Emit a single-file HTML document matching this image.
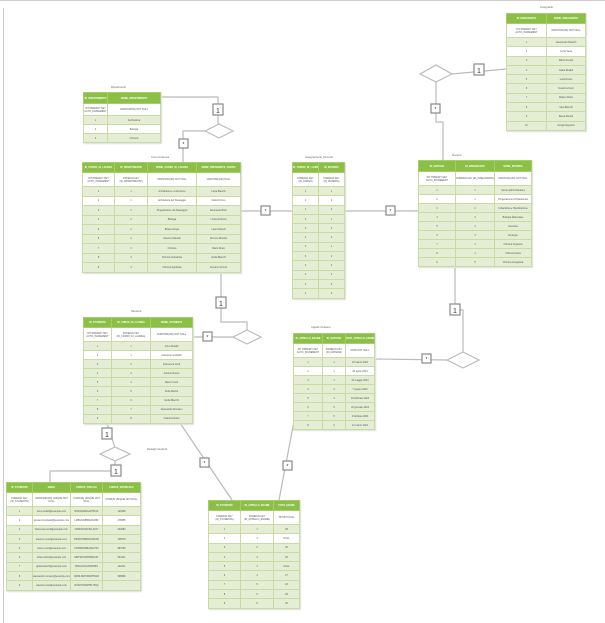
<!DOCTYPE html>
<html><head><meta charset="utf-8"><style>
body{margin:0;width:605px;height:623px;background:#fff;position:relative;overflow:hidden;font-family:"Liberation Sans",sans-serif}
.t{position:absolute;border-collapse:collapse;table-layout:fixed;border:1.5px solid #a7cc6c;font-size:2.4px;color:#555;box-shadow:1px 1px 1px #ddd}
.t td{border:1px solid #c6dca2;text-align:center;padding:0;overflow:hidden;white-space:nowrap;background:#e5eed5}
.t tr.h td{background:#8cbf45;color:#fff;font-weight:bold;border-color:#a7cc6c}
.t tr.y td{background:#fff;white-space:normal;line-height:3px}
.t tr.w td{background:#fff}
.lb{position:absolute;font-size:2.8px;color:#666}
svg{position:absolute;left:0;top:0}
</style></head><body>
<svg width="605" height="623">
<line x1="0" y1="0.5" x2="605" y2="0.5" stroke="#ccc"/>
<line x1="3.5" y1="8" x2="3.5" y2="623" stroke="#ccc"/>
<g fill="none" stroke="#bbb" stroke-width="1.2">
<polyline points="161,97 218,97 218,130"/>
<polygon points="205,131 219,124 233,131 219,138" fill="#fff"/>
<polyline points="205,131 183,131 183,162"/>
<line x1="241" y1="211" x2="292" y2="211"/>
<line x1="345" y1="211" x2="418" y2="211"/>
<polyline points="506,69 452,74"/>
<polygon points="420,74 436,65 452,74 436,82" fill="#fff"/>
<polyline points="436,82 436,122 443,122 443,160"/>
<polyline points="221,271 221,322 247,322 247,330"/>
<polygon points="233,337 247,330 261,337 247,344" fill="#fff"/>
<line x1="193" y1="337" x2="233" y2="337"/>
<polyline points="455,268 455,310 463,310 463,352"/>
<polygon points="447,360 463,352 479,360 463,368" fill="#fff"/>
<line x1="375" y1="359" x2="447" y2="360"/>
<line x1="107" y1="423" x2="115" y2="448"/>
<polygon points="100,454 115,447 130,454 115,461" fill="#fff"/>
<polyline points="115,461 115,471 50,471 50,482"/>
<line x1="180" y1="423" x2="232" y2="500"/>
<line x1="296" y1="411" x2="279" y2="500"/>
</g>
<g fill="#fff" stroke="#888" stroke-width="1.2" font-size="7" font-family="Liberation Sans" text-anchor="middle">
<rect x="213" y="104" width="10" height="11"/><text x="218" y="113" fill="#333" stroke="none">1</text>
<rect x="179" y="139" width="9" height="9"/><text x="183.5" y="146" fill="#333" stroke="none" font-size="5">*</text>
<rect x="261" y="206" width="9" height="9"/><text x="265.5" y="213" fill="#333" stroke="none" font-size="5">*</text>
<rect x="386" y="206" width="9" height="9"/><text x="390.5" y="213" fill="#333" stroke="none" font-size="5">*</text>
<rect x="474" y="64" width="10" height="11"/><text x="479" y="73" fill="#333" stroke="none">1</text>
<rect x="431" y="104" width="9" height="9"/><text x="435.5" y="111" fill="#333" stroke="none" font-size="5">*</text>
<rect x="216" y="297" width="10" height="11"/><text x="221" y="306" fill="#333" stroke="none">1</text>
<rect x="203" y="332" width="9" height="9"/><text x="207.5" y="339" fill="#333" stroke="none" font-size="5">*</text>
<rect x="450" y="304" width="10" height="11"/><text x="455" y="313" fill="#333" stroke="none">1</text>
<rect x="422" y="354" width="9" height="9"/><text x="426.5" y="361" fill="#333" stroke="none" font-size="5">*</text>
<rect x="102" y="428" width="10" height="11"/><text x="107" y="437" fill="#333" stroke="none">1</text>
<rect x="111" y="465" width="10" height="11"/><text x="116" y="474" fill="#333" stroke="none">1</text>
<rect x="200" y="458" width="9" height="9"/><text x="204.5" y="465" fill="#333" stroke="none" font-size="5">*</text>
<rect x="283" y="461" width="9" height="9"/><text x="287.5" y="468" fill="#333" stroke="none" font-size="5">*</text>
</g>
</svg>

<div class="lb" style="left:111px;top:85px">Dipartimenti</div>
<div class="lb" style="left:151px;top:155px">Corsi di laurea</div>
<div class="lb" style="left:305px;top:155px">Insegnamenti_Docenti</div>
<div class="lb" style="left:452px;top:153px">Docenti</div>
<div class="lb" style="left:540px;top:5px">Insegnanti</div>
<div class="lb" style="left:131px;top:309px">Studenti</div>
<div class="lb" style="left:311px;top:325px">Appelli d'esame</div>
<div class="lb" style="left:147px;top:447px">Dettagli studenti</div>

<table class="t" style="left:83px;top:92px;width:78px">
<colgroup><col style="width:24px"><col></colgroup>
<tr class="h" style="height:11px"><td>ID_DIPARTIMENTO</td><td>NOME_DIPARTIMENTO</td></tr>
<tr class="y" style="height:12px"><td>INT PRIMARY KEY AUTO_INCREMENT</td><td>VARCHAR(50) NOT NULL</td></tr>
<tr style="height:9px"><td>1</td><td>Architettura</td></tr>
<tr class="w" style="height:9px"><td>2</td><td>Biologia</td></tr>
<tr style="height:9px"><td>3</td><td>Chimica</td></tr>
</table>

<table class="t" style="left:82px;top:162px;width:159px">
<colgroup><col style="width:32px"><col style="width:33px"><col style="width:49px"><col></colgroup>
<tr class="h" style="height:10px"><td>ID_CORSO_DI_LAUREA</td><td>ID_DIPARTIMENTO</td><td>NOME_CORSO_DI_LAUREA</td><td>NOME_PRESIDENTE_CORSO</td></tr>
<tr class="y" style="height:14px"><td>INT PRIMARY KEY AUTO_INCREMENT</td><td>FOREIGN KEY (ID_DIPARTIMENTO)</td><td>VARCHAR(100) NOT NULL</td><td>VARCHAR(100) NULL</td></tr>
<tr style="height:9.5px"><td>1</td><td>1</td><td>Architettura e costruzione</td><td>Lucia Bianchi</td></tr>
<tr class="w" style="height:9.5px"><td>2</td><td>1</td><td>Architettura del Paesaggio</td><td>Fabio Di Feo</td></tr>
<tr style="height:9.5px"><td>3</td><td>1</td><td>Progettazione del Paesaggio</td><td>Emanuele Bisio</td></tr>
<tr style="height:9.5px"><td>4</td><td>2</td><td>Biologia</td><td>Umberto Rossi</td></tr>
<tr style="height:9.5px"><td>5</td><td>2</td><td>Biotecnologie</td><td>Laura Morelli</td></tr>
<tr style="height:9.5px"><td>6</td><td>2</td><td>Scienze Naturali</td><td>Simone Albertini</td></tr>
<tr style="height:9.5px"><td>7</td><td>3</td><td>Chimica</td><td>Mario Rossi</td></tr>
<tr style="height:9.5px"><td>8</td><td>3</td><td>Chimica Industriale</td><td>Giulia Bianchi</td></tr>
<tr style="height:9.5px"><td>9</td><td>3</td><td>Chimica Applicata</td><td>Giovanni Ferrari</td></tr>
</table>

<table class="t" style="left:292px;top:162px;width:53px">
<colgroup><col style="width:26px"><col></colgroup>
<tr class="h" style="height:10px"><td>ID_CORSO_DI_LAUREA</td><td>ID_MATERIA</td></tr>
<tr class="y" style="height:14px"><td>FOREIGN KEY (ID_CORSO)</td><td>FOREIGN KEY (ID_MATERIA)</td></tr>
<tr style="height:9.3px"><td>1</td><td>1</td></tr>
<tr class="w" style="height:9.3px"><td>1</td><td>2</td></tr>
<tr style="height:9.3px"><td>1</td><td>3</td></tr>
<tr style="height:9.3px"><td>2</td><td>1</td></tr>
<tr style="height:9.3px"><td>2</td><td>2</td></tr>
<tr style="height:9.3px"><td>2</td><td>3</td></tr>
<tr style="height:9.3px"><td>3</td><td>1</td></tr>
<tr style="height:9.3px"><td>3</td><td>2</td></tr>
<tr style="height:9.3px"><td>3</td><td>3</td></tr>
<tr style="height:9.3px"><td>4</td><td>4</td></tr>
<tr style="height:9.3px"><td>4</td><td>5</td></tr>
<tr style="height:9.3px"><td>4</td><td>6</td></tr>
</table>

<table class="t" style="left:418px;top:160px;width:114px">
<colgroup><col style="width:37px"><col style="width:39px"><col></colgroup>
<tr class="h" style="height:11px"><td>ID_MATERIA</td><td>ID_INSEGNANTE</td><td>NOME_MATERIA</td></tr>
<tr class="y" style="height:14px"><td>INT PRIMARY KEY AUTO_INCREMENT</td><td>FOREIGN KEY (ID_INSEGNANTE)</td><td>VARCHAR(100) NOT NULL</td></tr>
<tr style="height:9px"><td>1</td><td>1</td><td>Storia dell'Architettura</td></tr>
<tr class="w" style="height:9px"><td>2</td><td>1</td><td>Progettazione Architettonica</td></tr>
<tr style="height:9px"><td>3</td><td>2</td><td>Urbanistica e Pianificazione</td></tr>
<tr style="height:9px"><td>4</td><td>3</td><td>Biologia Molecolare</td></tr>
<tr style="height:9px"><td>5</td><td>3</td><td>Genetica</td></tr>
<tr style="height:9px"><td>6</td><td>3</td><td>Ecologia</td></tr>
<tr style="height:9px"><td>7</td><td>4</td><td>Chimica Organica</td></tr>
<tr style="height:9px"><td>8</td><td>4</td><td>Chimica Fisica</td></tr>
<tr style="height:9px"><td>9</td><td>5</td><td>Chimica Inorganica</td></tr>
</table>

<table class="t" style="left:506px;top:13px;width:80px">
<colgroup><col style="width:40px"><col></colgroup>
<tr class="h" style="height:10px"><td>ID_INSEGNANTE</td><td>NOME_INSEGNANTE</td></tr>
<tr class="y" style="height:14px"><td>INT PRIMARY KEY AUTO_INCREMENT</td><td>VARCHAR(100) NOT NULL</td></tr>
<tr style="height:9.3px"><td>1</td><td>Alessandro Bianchi</td></tr>
<tr class="w" style="height:9.3px"><td>2</td><td>Lucia Verdi</td></tr>
<tr style="height:9.3px"><td>3</td><td>Marco Ferrari</td></tr>
<tr style="height:9.3px"><td>4</td><td>Giulia Rinaldi</td></tr>
<tr style="height:9.3px"><td>5</td><td>Luca Russo</td></tr>
<tr style="height:9.3px"><td>6</td><td>Federica Conti</td></tr>
<tr style="height:9.3px"><td>7</td><td>Matteo Rossi</td></tr>
<tr style="height:9.3px"><td>8</td><td>Sara Bianchi</td></tr>
<tr style="height:9.3px"><td>9</td><td>Elena Moretti</td></tr>
<tr style="height:9.3px"><td>10</td><td>Giorgio Esposito</td></tr>
</table>

<table class="t" style="left:83px;top:317px;width:110px">
<colgroup><col style="width:28px"><col style="width:39px"><col></colgroup>
<tr class="h" style="height:10px"><td>ID_STUDENTE</td><td>ID_CORSO_DI_LAUREA</td><td>NOME_STUDENTE</td></tr>
<tr class="y" style="height:14px"><td>INT PRIMARY KEY AUTO_INCREMENT</td><td>FOREIGN KEY (ID_CORSO_DI_LAUREA)</td><td>VARCHAR(100) NOT NULL</td></tr>
<tr style="height:9.1px"><td>1</td><td>1</td><td>Anna Rinaldi</td></tr>
<tr class="w" style="height:9.1px"><td>2</td><td>1</td><td>Giovanni Lombardi</td></tr>
<tr style="height:9.1px"><td>3</td><td>2</td><td>Francesca Verdi</td></tr>
<tr style="height:9.1px"><td>4</td><td>3</td><td>Antonio Russo</td></tr>
<tr style="height:9.1px"><td>5</td><td>4</td><td>Marco Conti</td></tr>
<tr style="height:9.1px"><td>6</td><td>5</td><td>Sofia Martini</td></tr>
<tr style="height:9.1px"><td>7</td><td>6</td><td>Giulia Bianchi</td></tr>
<tr style="height:9.1px"><td>8</td><td>7</td><td>Alessandro Romano</td></tr>
<tr style="height:9.1px"><td>9</td><td>8</td><td>Caterina Rossi</td></tr>
</table>

<table class="t" style="left:293px;top:333px;width:82px">
<colgroup><col style="width:29px"><col style="width:23px"><col></colgroup>
<tr class="h" style="height:10px"><td>ID_APPELLO_ESAME</td><td>ID_MATERIA</td><td>DATA_APPELLO_ESAME</td></tr>
<tr class="y" style="height:14px"><td>INT PRIMARY KEY AUTO_INCREMENT</td><td>FOREIGN KEY (ID_MATERIA)</td><td>DATE NOT NULL</td></tr>
<tr style="height:9px"><td>1</td><td>1</td><td>15 marzo 2024</td></tr>
<tr class="w" style="height:9px"><td>2</td><td>1</td><td>20 aprile 2024</td></tr>
<tr style="height:9px"><td>3</td><td>1</td><td>10 maggio 2024</td></tr>
<tr style="height:9px"><td>4</td><td>4</td><td>7 giugno 2024</td></tr>
<tr style="height:9px"><td>5</td><td>4</td><td>18 febbraio 2024</td></tr>
<tr style="height:9px"><td>6</td><td>5</td><td>22 gennaio 2024</td></tr>
<tr style="height:9px"><td>7</td><td>5</td><td>3 febbraio 2024</td></tr>
<tr style="height:9px"><td>8</td><td>6</td><td>12 marzo 2024</td></tr>
</table>

<table class="t" style="left:6px;top:482px;width:135px">
<colgroup><col style="width:26px"><col style="width:38px"><col style="width:32px"><col></colgroup>
<tr class="h" style="height:10px"><td>ID_STUDENTE</td><td>EMAIL</td><td>CODICE_FISCALE</td><td>CODICE_MATRICOLA</td></tr>
<tr class="y" style="height:14px"><td>FOREIGN KEY (ID_STUDENTE)</td><td>VARCHAR(100) UNIQUE NOT NULL</td><td>CHAR(16) UNIQUE NOT NULL</td><td>CHAR(6) UNIQUE NOT NULL</td></tr>
<tr style="height:9.3px"><td>1</td><td>anna.rinaldi@example.com</td><td>RNLNNA90A41H501X</td><td>123456</td></tr>
<tr class="w" style="height:9.3px"><td>2</td><td>giovanni.lombardi@example.com</td><td>LMBGNN85B12F205Z</td><td>478965</td></tr>
<tr style="height:9.3px"><td>3</td><td>francesca.verdi@example.com</td><td>VRDFNC92C51L219Y</td><td>324680</td></tr>
<tr style="height:9.3px"><td>4</td><td>antonio.russo@example.com</td><td>RSSNTN88D01A944W</td><td>135579</td></tr>
<tr style="height:9.3px"><td>5</td><td>marco.conti@example.com</td><td>CNTMRC95E10G273V</td><td>987654</td></tr>
<tr style="height:9.3px"><td>6</td><td>sofia.martini@example.com</td><td>MRTSFO93H45D612T</td><td>543211</td></tr>
<tr style="height:9.3px"><td>7</td><td>giulia.bianchi@example.com</td><td>BNCGLI91L60F839S</td><td>112211</td></tr>
<tr style="height:9.3px"><td>8</td><td>alessandro.romano@example.com</td><td>RMNLSN87M20H501R</td><td>998899</td></tr>
<tr style="height:9.3px"><td>9</td><td>caterina.rossi@example.com</td><td>RSSCTR94P55L736Q</td><td></td></tr>
</table>

<table class="t" style="left:208px;top:500px;width:92px">
<colgroup><col style="width:32px"><col style="width:33px"><col></colgroup>
<tr class="h" style="height:10px"><td>ID_STUDENTE</td><td>ID_APPELLO_ESAME</td><td>VOTO_ESAME</td></tr>
<tr class="y" style="height:14px"><td>FOREIGN KEY (ID_STUDENTE)</td><td>FOREIGN KEY (ID_APPELLO_ESAME)</td><td>TINYINT NULL</td></tr>
<tr style="height:9.3px"><td>1</td><td>1</td><td>28</td></tr>
<tr class="w" style="height:9.3px"><td>2</td><td>1</td><td>NULL</td></tr>
<tr style="height:9.3px"><td>3</td><td>2</td><td>30</td></tr>
<tr style="height:9.3px"><td>4</td><td>3</td><td>25</td></tr>
<tr style="height:9.3px"><td>5</td><td>3</td><td>NULL</td></tr>
<tr style="height:9.3px"><td>6</td><td>4</td><td>27</td></tr>
<tr style="height:9.3px"><td>7</td><td>5</td><td>24</td></tr>
<tr style="height:9.3px"><td>8</td><td>6</td><td>29</td></tr>
<tr style="height:9.3px"><td>9</td><td>8</td><td>30</td></tr>
</table>
</body></html>
